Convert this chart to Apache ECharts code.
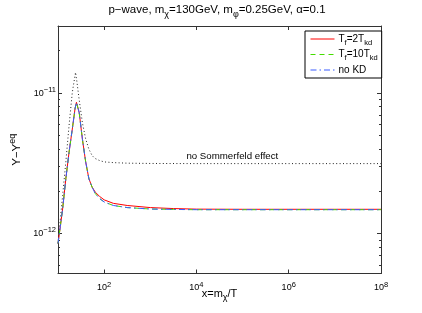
<!DOCTYPE html>
<html>
<head>
<meta charset="utf-8">
<script src="https://cdn.jsdelivr.net/npm/echarts@6/dist/echarts.min.js"></script>
<style>html,body{margin:0;padding:0;background:#fff}#c{width:422px;height:313px}</style>
</head>
<body>
<div id="c"></div>
<script>
// ---- data ----
const seriesNames = ['T_f=2T_kd', 'T_f=10T_kd', 'no KD', 'no Sommerfeld'];
const xKD = [10, 11.22, 12.59, 14.79, 17.38, 20.42, 23.44, 25.12, 28.84, 33.88, 39.81, 46.77, 54.95, 64.57, 79.43, 100, 158.5, 316.2, 1000, 3162, 1e4, 1e5, 1e6, 1e7, 1e8];
const yTf2 = [0.851e-12, 1.122e-12, 1.496e-12, 2.455e-12, 3.802e-12, 5.546e-12, 7.762e-12, 8.590e-12, 7.244e-12, 4.677e-12, 3.236e-12, 2.455e-12, 2.138e-12, 1.968e-12, 1.841e-12, 1.738e-12, 1.641e-12, 1.585e-12, 1.531e-12, 1.507e-12, 1.493e-12, 1.489e-12, 1.489e-12, 1.489e-12, 1.489e-12];
const yTf10 = [0.851e-12, 1.122e-12, 1.496e-12, 2.455e-12, 3.802e-12, 5.546e-12, 7.762e-12, 8.590e-12, 7.244e-12, 4.677e-12, 3.236e-12, 2.455e-12, 2.138e-12, 1.923e-12, 1.778e-12, 1.679e-12, 1.585e-12, 1.531e-12, 1.496e-12, 1.486e-12, 1.479e-12, 1.479e-12, 1.479e-12, 1.479e-12, 1.479e-12];
const yNoKD = [0.851e-12, 1.122e-12, 1.496e-12, 2.455e-12, 3.802e-12, 5.546e-12, 7.762e-12, 8.590e-12, 7.244e-12, 4.677e-12, 3.236e-12, 2.455e-12, 2.138e-12, 1.923e-12, 1.778e-12, 1.679e-12, 1.585e-12, 1.531e-12, 1.496e-12, 1.486e-12, 1.479e-12, 1.479e-12, 1.479e-12, 1.479e-12, 1.479e-12];
const xNoSF = [10, 10.72, 12.59, 14.79, 17.38, 20.42, 23.99, 25.70, 28.58, 33.73, 39.81, 46.77, 54.95, 63.10, 79.43, 100, 158.5, 316.2, 1000, 1e4, 1e5, 1e6, 1e7, 1e8];
const yNoSF = [0.851e-12, 1.079e-12, 1.862e-12, 3.236e-12, 5.888e-12, 10.12e-12, 14.03e-12, 12.02e-12, 9.120e-12, 6.166e-12, 4.710e-12, 3.981e-12, 3.589e-12, 3.428e-12, 3.311e-12, 3.236e-12, 3.199e-12, 3.170e-12, 3.155e-12, 3.148e-12, 3.148e-12, 3.148e-12, 3.148e-12, 3.148e-12];
const annotText = 'no Sommerfeld effect';
const annotPos = [6.0e4, 3.56e-12];
const xRange = [10, 1e8];
const yRange = [5.2e-13, 3e-11];

// ---- presentation ----
const FONT = '"Liberation Sans", Arial, Helvetica, sans-serif';
const AXC = '#333';
const COLORS = ['#ff0000', '#44dd00', '#3a5cff', '#222'];
const DASHES = ['solid', [5, 4], [6, 3, 1.5, 3], [1, 2.4]];
const zip = (xs, ys) => xs.map((x, i) => [x, ys[i]]);
const legendRich = {
  t: {fontSize: 10, fontFamily: FONT, color: '#000', fontWeight: 'normal'},
  sub: {fontSize: 7.5, fontFamily: FONT, color: '#000', fontWeight: 'normal', padding: [7, 0, 0, 0]}
};
const legendFmt = {
  'T_f=2T_kd': '{t|T}{sub|f}{t|=2T}{sub|kd}',
  'T_f=10T_kd': '{t|T}{sub|f}{t|=10T}{sub|kd}',
  'no KD': '{t|no KD}'
};
function powLabel(v) {
  const e = Math.log10(v);
  const r = Math.round(e);
  if (Math.abs(e - r) > 1e-6) return '';
  return '{b|10}{s|' + String(r).replace('-', '\u2212') + '}';
}
const tickRich = {
  b: {fontSize: 9, fontFamily: FONT, color: '#000'},
  s: {fontSize: 7.5, fontFamily: FONT, color: '#000', padding: [0, 0, 7, 0]}
};
const commonX = {
  type: 'log', logBase: 100, min: xRange[0], max: xRange[1],
  axisLine: {show: true, lineStyle: {color: AXC, width: 1}},
  axisTick: {show: true, inside: true, length: 4, lineStyle: {color: AXC}},
  splitLine: {show: false}, minorTick: {show: false}
};
const commonY = {
  type: 'log', logBase: 10, min: yRange[0], max: yRange[1],
  axisLine: {show: true, lineStyle: {color: AXC, width: 1}},
  axisTick: {show: true, inside: true, length: 4, lineStyle: {color: AXC}},
  minorTick: {show: true, splitNumber: 9, length: 2, lineStyle: {color: AXC}},
  splitLine: {show: false}, minorSplitLine: {show: false}
};

const chart = echarts.init(document.getElementById('c'), null, {renderer: 'canvas'});
chart.setOption({
  animation: false,
  backgroundColor: '#fff',
  title: {
    text: '{t|p\u2212wave, m}{sub|\u03c7}{t|=130GeV, m}{sub|\u03c6}{t|=0.25GeV, \u03b1=0.1}',
    left: 217, top: 1, textAlign: 'center', padding: 0,
    textStyle: {fontWeight: 'normal', rich: {
      t: {fontSize: 11.5, fontFamily: FONT, color: '#000', fontWeight: 'normal'},
      sub: {fontSize: 9, fontFamily: FONT, color: '#000', fontWeight: 'normal', padding: [9, 0, 0, 0]}
    }}
  },
  grid: {left: 54, right: 41, top: 26, bottom: 39.5, containLabel: false},
  legend: {
    orient: 'vertical', left: 305, top: 31,
    data: [0, 1, 2].map(i => ({
      name: seriesNames[i],
      itemStyle: {color: 'rgba(0,0,0,0)', borderWidth: 0, opacity: 0},
      lineStyle: {color: COLORS[i], width: 1, type: DASHES[i], opacity: 1}
    })),
    itemWidth: 24, itemHeight: 11, itemGap: 3,
    padding: [3, 4, 3, 5],
    borderColor: '#000', borderWidth: 1, backgroundColor: '#fff',
    formatter: n => legendFmt[n],
    textStyle: {rich: legendRich, fontSize: 10, fontFamily: FONT, color: '#000', padding: [0, 0, 0, -1]}
  },
  xAxis: [
    Object.assign({}, commonX, {
      position: 'bottom',
      name: '{t|x=m}{sub|\u03c7}{t|/T}', nameLocation: 'middle', nameGap: 11, nameMoveOverlap: false,
      nameTextStyle: {rich: {
        t: {fontSize: 11, fontFamily: FONT, color: '#000'},
        sub: {fontSize: 9, fontFamily: FONT, color: '#000', padding: [9, 0, 0, 0]}
      }},
      axisLabel: {show: true, margin: 7, showMinLabel: false, formatter: powLabel, rich: tickRich}
    }),
    Object.assign({}, commonX, {position: 'top', axisLabel: {show: false}})
  ],
  yAxis: [
    Object.assign({}, commonY, {
      position: 'left',
      name: '{t|Y\u2212Y}{sup|eq}', nameLocation: 'middle', nameGap: 33, nameRotate: 90, nameMoveOverlap: false,
      nameTextStyle: {rich: {
        t: {fontSize: 11.5, fontFamily: FONT, color: '#000'},
        sup: {fontSize: 9, fontFamily: FONT, color: '#000', padding: [0, 0, 8, 0]}
      }},
      axisLabel: {show: true, margin: 2, formatter: powLabel, rich: tickRich}
    }),
    Object.assign({}, commonY, {position: 'right', axisLabel: {show: false}})
  ],
  series: [
    {name: seriesNames[0], type: 'line', data: zip(xKD, yTf2), showSymbol: false, symbol: 'none',
     lineStyle: {color: COLORS[0], width: 1, type: DASHES[0]}, itemStyle: {color: COLORS[0]}, z: 2},
    {name: seriesNames[1], type: 'line', data: zip(xKD, yTf10), showSymbol: false, symbol: 'none',
     lineStyle: {color: COLORS[1], width: 1, type: DASHES[1]}, itemStyle: {color: COLORS[1]}, z: 3},
    {name: seriesNames[2], type: 'line', data: zip(xKD, yNoKD), showSymbol: false, symbol: 'none',
     lineStyle: {color: COLORS[2], width: 1, type: DASHES[2]}, itemStyle: {color: COLORS[2]}, z: 4},
    {name: seriesNames[3], type: 'line', data: zip(xNoSF, yNoSF), showSymbol: false, symbol: 'none',
     lineStyle: {color: COLORS[3], width: 1, type: DASHES[3]}, itemStyle: {color: COLORS[3]}, z: 1,
     markPoint: {
       symbol: 'circle', symbolSize: 1, itemStyle: {color: 'rgba(0,0,0,0)'},
       label: {show: true, position: 'inside', formatter: annotText, color: '#000', fontSize: 9.7, fontFamily: FONT},
       data: [{coord: annotPos}]
     }}
  ]
});
</script>
</body>
</html>
